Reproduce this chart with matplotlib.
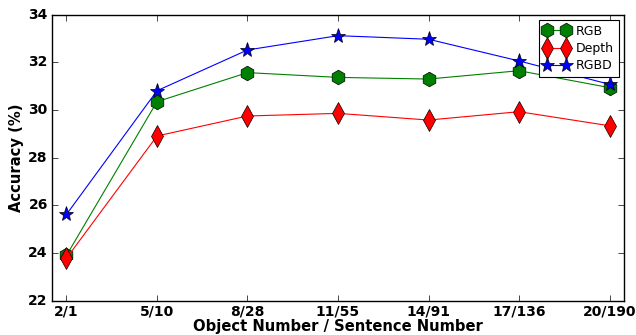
import matplotlib
matplotlib.use("Agg")
import matplotlib.pyplot as plt

categories = ["2/1", "5/10", "8/28", "11/55", "14/91", "17/136", "20/190"]
rgb = [23.90, 30.35, 31.57, 31.37, 31.30, 31.65, 30.94]
depth = [23.78, 28.91, 29.75, 29.86, 29.58, 29.93, 29.34]
rgbd = [25.62, 30.81, 32.52, 33.12, 32.97, 32.06, 31.08]

plt.style.use('classic')
fig = plt.figure(figsize=(6.36, 3.35), dpi=100)
ax = fig.add_axes([52/636, 1 - 300.7/335, (624-52)/636, (300.7-14.7)/335])

x = list(range(len(categories)))
ax.plot(x, rgb, color='green', marker='h', markersize=10.5, markeredgecolor='black',
        markerfacecolor='green', linewidth=0.8, label='RGB')
ax.plot(x, depth, color='red', marker='d', markersize=11, markeredgecolor='black',
        markerfacecolor='red', linewidth=0.8, label='Depth')
ax.plot(x, rgbd, color='blue', marker='*', markersize=11, markeredgecolor='black',
        markerfacecolor='blue', linewidth=0.8, label='RGBD')

ax.set_xlim(-0.16, 6.16)
ax.set_ylim(22, 34)
ax.set_xticks(x)
ax.set_xticklabels(categories)
ax.set_yticks([22, 24, 26, 28, 30, 32, 34])
for lab in ax.get_xticklabels() + ax.get_yticklabels():
    lab.set_fontweight('bold')
    lab.set_fontsize(10)
ax.set_xlabel('Object Number / Sentence Number', fontsize=10.6, fontweight='bold', labelpad=0)
ax.set_ylabel('Accuracy (%)', fontsize=10.6, fontweight='bold', labelpad=3)
ax.tick_params(direction='in', length=4, pad=3)

leg = ax.legend(loc='upper right', numpoints=2, fontsize=9, borderaxespad=0.4,
                handlelength=2.1, handletextpad=0.5, labelspacing=0.35, fancybox=False)
leg.get_frame().set_linewidth(0.8)

fig.savefig('out.png', dpi=100)
